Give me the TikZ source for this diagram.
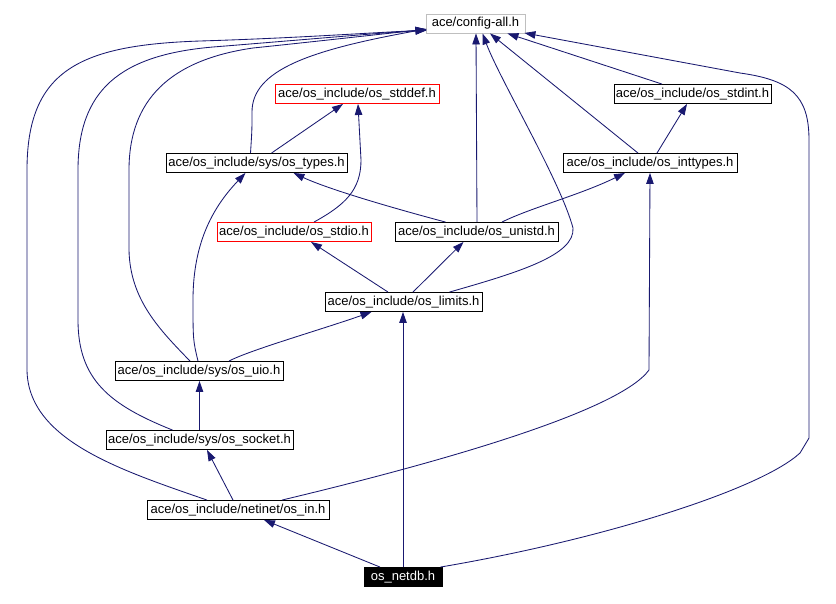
\documentclass[tikz,border=0pt]{standalone}
\usepackage{fontspec}
\setmainfont{Liberation Sans}
\usetikzlibrary{arrows.meta}
\definecolor{navy}{HTML}{191970}
\definecolor{cfggray}{HTML}{BFBFBF}
\tikzset{
  file/.style={draw=black, line width=0.9pt, minimum height=19pt, inner sep=0pt, fill=white,
    font=\fontsize{13}{14}\selectfont},
  redfile/.style={file, draw=red},
  edge/.style={draw=navy, line width=0.85pt, -{Triangle[length=11pt,width=7.5pt]}}
}
\begin{document}
\begin{tikzpicture}[x=1pt,y=-1pt]
\useasboundingbox[fill=white] (0,0) rectangle (836,603);
% nodes
\node[file, draw=cfggray, minimum width=99pt] (config) at (475.5,23.5) {ace/config-all.h};
\node[redfile, minimum width=164pt] (stddef) at (357,94) {ace/os\_include/os\_stddef.h};
\node[file, minimum width=157pt] (stdint) at (692.5,94) {ace/os\_include/os\_stdint.h};
\node[file, minimum width=181pt] (types) at (256.5,163) {ace/os\_include/sys/os\_types.h};
\node[file, minimum width=174pt] (inttypes) at (650,163) {ace/os\_include/os\_inttypes.h};
\node[redfile, minimum width=154pt] (stdio) at (294,232) {ace/os\_include/os\_stdio.h};
\node[file, minimum width=163pt] (unistd) at (476.5,232) {ace/os\_include/os\_unistd.h};
\node[file, minimum width=157pt] (limits) at (403.5,302) {ace/os\_include/os\_limits.h};
\node[file, minimum width=168pt] (uio) at (199,371) {ace/os\_include/sys/os\_uio.h};
\node[file, minimum width=187pt] (socket) at (199.5,440) {ace/os\_include/sys/os\_socket.h};
\node[file, minimum width=182pt] (osin) at (238,510) {ace/os\_include/netinet/os\_in.h};
\node[file, fill=black, text=white, minimum width=78pt] (netdb) at (403,577) {os\_netdb.h};
% edges
% os_in -> config
\draw[edge] ([xshift=-31pt]osin.north) .. controls (120,470) and (28,440) .. (27,370) -- (27,170)
  .. controls (27,70) and (80,45) .. (200,41) .. controls (300,38) and (380,32) .. ([xshift=1pt,yshift=3pt]config.south west);
% socket -> config
\draw[edge] ([xshift=-27pt]socket.north) .. controls (110,405) and (78,380) .. (78,320) -- (78,170)
  .. controls (78,90) and (120,55) .. (213,47) .. controls (300,40) and (380,33) .. ([xshift=1pt,yshift=3.5pt]config.south west);
% uio -> config
\draw[edge] ([xshift=-9pt]uio.north) .. controls (160,330) and (130,300) .. (129,250) -- (129,170)
  .. controls (129,100) and (170,60) .. (253,48) .. controls (330,40) and (390,33) .. ([xshift=1pt,yshift=4pt]config.south west);
% types -> config
\draw[edge] ([xshift=-6pt]types.north) .. controls (252,130) .. (252,112)
  .. controls (252,70) and (310,50) .. ([xshift=1pt,yshift=4.5pt]config.south west);
% types -> stddef
\draw[edge] ([xshift=15pt]types.north) -- ([xshift=-14pt]stddef.south);
% stdio -> stddef
\draw[edge] ([xshift=20pt]stdio.north) .. controls (345,205) and (361,190) .. (361,160) -- ([xshift=1pt]stddef.south);
% unistd -> types
\draw[edge] ([xshift=-31pt]unistd.north) .. controls (400,210) and (330,190) .. ([xshift=37pt]types.south);
% unistd -> config
\draw[edge] ([xshift=0.5pt]unistd.north) -- ([xshift=0.5pt]config.south);
% unistd -> inttypes
\draw[edge] ([xshift=25.5pt]unistd.north) .. controls (530,208) and (580,195) .. ([xshift=-25pt]inttypes.south);
% limits -> stdio
\draw[edge] ([xshift=-15.5pt]limits.north) -- ([xshift=17pt]stdio.south);
% limits -> unistd
\draw[edge] ([xshift=9.5pt]limits.north) -- ([xshift=-13pt]unistd.south);
% limits -> config
\draw[edge] ([xshift=46pt]limits.north) .. controls (520,272) and (575,255) .. (573,228)
  .. controls (560,180) and (500,80) .. ([xshift=7pt]config.south);
% inttypes -> stdint
\draw[edge] ([xshift=7pt]inttypes.north) -- ([xshift=-5.5pt]stdint.south);
% inttypes -> config
\draw[edge] ([xshift=-12pt]inttypes.north) -- ([xshift=14.5pt]config.south);
% stdint -> config
\draw[edge] ([xshift=-30.5pt]stdint.north) -- ([xshift=-18pt]config.south east);
% netdb -> config
\draw[edge] ([xshift=-2pt]netdb.north east) .. controls (600,540) and (760,490) .. (800,453) -- (809,438) -- (809,140)
  .. controls (809,95) and (790,80) .. (740,73) -- ([xshift=-1pt,yshift=0.5pt]config.south east);
% netdb -> os_in
\draw[edge] ([xshift=-23pt]netdb.north) -- ([xshift=26pt]osin.south);
% netdb -> limits
\draw[edge] (netdb.north) -- (netdb.north |- limits.south);
% os_in -> socket
\draw[edge] ([xshift=-5pt]osin.north) -- ([xshift=7.5pt]socket.south);
% os_in -> inttypes
\draw[edge] ([xshift=44pt]osin.north) .. controls (450,460) and (620,410) .. (649,370) -- (inttypes.south);
% socket -> uio
\draw[edge] (socket.north) -- (socket.north |- uio.south);
% uio -> types
\draw[edge] ([xshift=-1pt]uio.north) .. controls (193,340) .. (193,300)
  .. controls (193,240) and (215,205) .. ([xshift=-11pt]types.south);
% uio -> limits
\draw[edge] ([xshift=30pt]uio.north) .. controls (250,350) and (320,330) .. ([xshift=-32pt]limits.south);
\end{tikzpicture}
\end{document}
